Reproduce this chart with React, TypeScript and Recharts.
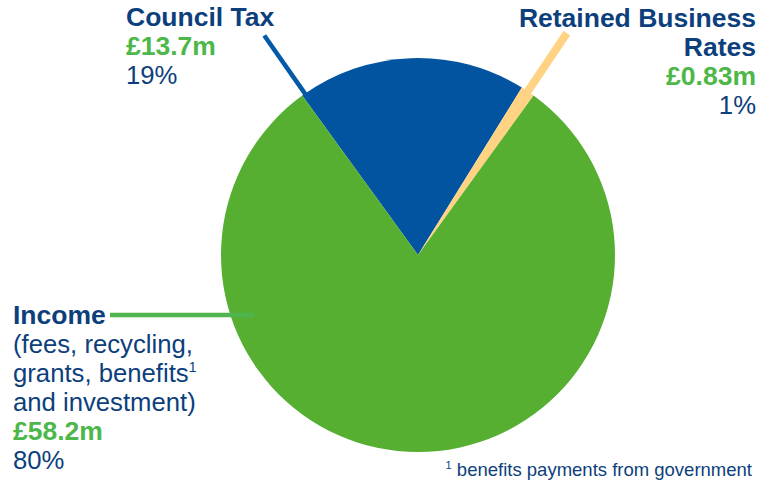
import { PieChart, Pie, Cell } from "recharts";

const categories = ["Council Tax", "Retained Business Rates", "Income"];
const amounts = [13.7, 0.83, 58.2];
const amountLabels = ["£13.7m", "£0.83m", "£58.2m"];
const shareLabels = ["19%", "1%", "80%"];

const COLORS = ["#0254A1", "#FFD383", "#56AF31"];
const NAVY = "#0D3F7C";
const GREEN_TEXT = "#4DB74A";
const FONT = "'Liberation Sans', Arial, sans-serif";
const BOLD = 26.5;
const REG = 25.7;

const RADIAN = Math.PI / 180;

const data = categories.map((name, i) => ({
  name,
  value: amounts[i],
}));

function polar(cx: number, cy: number, r: number, angle: number) {
  return {
    x: cx + r * Math.cos(-angle * RADIAN),
    y: cy + r * Math.sin(-angle * RADIAN),
  };
}

function renderLabel(props: any) {
  const { cx, cy, outerRadius, startAngle, midAngle, index } = props;

  if (index === 0) {
    const a = polar(cx, cy, outerRadius - 7, startAngle - 1);
    const b = polar(cx, cy, outerRadius + 71, startAngle - 1);
    return (
      <g key="lbl0">
        <line x1={a.x} y1={a.y} x2={b.x} y2={b.y} stroke="#0459A8" strokeWidth={4.5} />
        <text x={126} y={26} fontFamily={FONT} fontSize={BOLD} fontWeight="bold" fill={NAVY}>
          {categories[0]}
        </text>
        <text x={126} y={55} fontFamily={FONT} fontSize={BOLD} fontWeight="bold" fill={GREEN_TEXT}>
          {amountLabels[0]}
        </text>
        <text x={126} y={84} fontFamily={FONT} fontSize={REG} fill={NAVY}>
          {shareLabels[0]}
        </text>
      </g>
    );
  }

  if (index === 1) {
    const a = polar(cx, cy, outerRadius - 14, midAngle);
    const b = polar(cx, cy, outerRadius + 70, midAngle);
    return (
      <g key="lbl1">
        <line x1={a.x} y1={a.y} x2={b.x} y2={b.y} stroke={COLORS[1]} strokeWidth={8} />
        <text x={756} y={27} textAnchor="end" fontFamily={FONT} fontSize={BOLD} fontWeight="bold" fill={NAVY}>
          Retained Business
        </text>
        <text x={756} y={56} textAnchor="end" fontFamily={FONT} fontSize={BOLD} fontWeight="bold" fill={NAVY}>
          Rates
        </text>
        <text x={756} y={85} textAnchor="end" fontFamily={FONT} fontSize={BOLD} fontWeight="bold" fill={GREEN_TEXT}>
          {amountLabels[1]}
        </text>
        <text x={756} y={114} textAnchor="end" fontFamily={FONT} fontSize={REG} fill={NAVY}>
          {shareLabels[1]}
        </text>
      </g>
    );
  }

  const ly = cy + 60;
  return (
    <g key="lbl2">
      <line x1={110} y1={ly} x2={254} y2={ly} stroke="#4FB54E" strokeWidth={4.5} />
      <text x={13} y={324} fontFamily={FONT} fontSize={BOLD} fontWeight="bold" fill={NAVY}>
        Income
      </text>
      <text x={13} y={353} fontFamily={FONT} fontSize={REG} fill={NAVY}>
        (fees, recycling,
      </text>
      <text x={13} y={382} fontFamily={FONT} fontSize={REG} fill={NAVY}>
        grants, benefits
        <tspan fontSize={14} dy={-10}>1</tspan>
      </text>
      <text x={13} y={411} fontFamily={FONT} fontSize={REG} fill={NAVY}>
        and investment)
      </text>
      <text x={13} y={440} fontFamily={FONT} fontSize={BOLD} fontWeight="bold" fill={GREEN_TEXT}>
        {amountLabels[2]}
      </text>
      <text x={13} y={469} fontFamily={FONT} fontSize={REG} fill={NAVY}>
        {shareLabels[2]}
      </text>
    </g>
  );
}

export default function App() {
  return (
    <div style={{ position: "absolute", left: 0, top: 0, width: 771, height: 482, background: "#fff" }}>
      <PieChart width={771} height={482} margin={{ top: 0, right: 0, bottom: 0, left: 0 }}>
        <Pie
          data={data}
          dataKey="value"
          nameKey="name"
          cx={418}
          cy={255}
          outerRadius={197}
          startAngle={126}
          endAngle={-234}
          stroke="none"
          label={renderLabel}
          labelLine={false}
          isAnimationActive={false}
        >
          {data.map((entry, index) => (
            <Cell key={entry.name} fill={COLORS[index]} />
          ))}
        </Pie>
        <text x={752} y={476} textAnchor="end" fontFamily={FONT} fontSize={18.5} fill={NAVY}>
          <tspan fontSize={11} dy={-7}>1</tspan>
          <tspan dy={7}> benefits payments from government</tspan>
        </text>
      </PieChart>
    </div>
  );
}
